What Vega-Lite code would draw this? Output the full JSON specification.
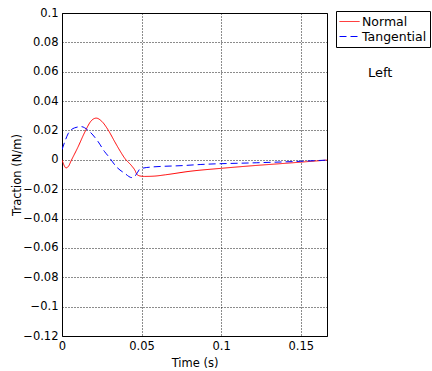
{
  "$schema": "https://vega.github.io/schema/vega-lite/v6.json",
  "width": 265,
  "height": 323,
  "autosize": {"type": "none"},
  "padding": {"left": 62, "top": 13, "right": 105, "bottom": 35},
  "background": "white",
  "title": {
    "text": "Left",
    "orient": "top",
    "anchor": "start",
    "frame": "group",
    "align": "left",
    "baseline": "alphabetic",
    "offset": 0,
    "dx": 306,
    "dy": 83,
    "font": "DejaVu Sans",
    "fontSize": 13,
    "fontWeight": "normal",
    "color": "black"
  },
  "config": {
    "view": {"stroke": "black", "strokeWidth": 1},
    "axis": {
      "domain": false,
      "ticks": false,
      "grid": true,
      "gridColor": "black",
      "gridDash": [1, 2],
      "gridWidth": 1,
      "gridOpacity": 0.9,
      "labelFont": "DejaVu Sans",
      "labelFontSize": 11.5,
      "labelColor": "black",
      "labelPadding": 4,
      "labelFlush": false,
      "labelOverlap": false,
      "titleFont": "DejaVu Sans",
      "titleFontSize": 11.5,
      "titleFontWeight": "normal",
      "titleColor": "black"
    },
    "legend": {
      "labelFont": "DejaVu Sans",
      "labelFontSize": 12.5,
      "labelColor": "black"
    }
  },
  "data": {
    "values": [
      {"t": 0.0, "v": 0.0, "s": "Normal"},
      {"t": 0.001, "v": -0.003, "s": "Normal"},
      {"t": 0.0025, "v": -0.0055, "s": "Normal"},
      {"t": 0.004, "v": -0.0045, "s": "Normal"},
      {"t": 0.0058, "v": -0.0005, "s": "Normal"},
      {"t": 0.010, "v": 0.0086, "s": "Normal"},
      {"t": 0.0143, "v": 0.0188, "s": "Normal"},
      {"t": 0.0184, "v": 0.0266, "s": "Normal"},
      {"t": 0.0215, "v": 0.0284, "s": "Normal"},
      {"t": 0.025, "v": 0.0262, "s": "Normal"},
      {"t": 0.0289, "v": 0.0205, "s": "Normal"},
      {"t": 0.0333, "v": 0.012, "s": "Normal"},
      {"t": 0.0365, "v": 0.006, "s": "Normal"},
      {"t": 0.0396, "v": 0.0008, "s": "Normal"},
      {"t": 0.0437, "v": -0.004, "s": "Normal"},
      {"t": 0.0459, "v": -0.0073, "s": "Normal"},
      {"t": 0.047, "v": -0.0098, "s": "Normal"},
      {"t": 0.049, "v": -0.011, "s": "Normal"},
      {"t": 0.052, "v": -0.0113, "s": "Normal"},
      {"t": 0.058, "v": -0.0111, "s": "Normal"},
      {"t": 0.065, "v": -0.0102, "s": "Normal"},
      {"t": 0.0804, "v": -0.0078, "s": "Normal"},
      {"t": 0.1, "v": -0.0058, "s": "Normal"},
      {"t": 0.12, "v": -0.004, "s": "Normal"},
      {"t": 0.1413, "v": -0.0023, "s": "Normal"},
      {"t": 0.1665, "v": -0.0002, "s": "Normal"},
      {"t": 0.0, "v": 0.007, "s": "Tangential"},
      {"t": 0.002, "v": 0.013, "s": "Tangential"},
      {"t": 0.0038, "v": 0.0177, "s": "Tangential"},
      {"t": 0.008, "v": 0.0218, "s": "Tangential"},
      {"t": 0.0121, "v": 0.0226, "s": "Tangential"},
      {"t": 0.0163, "v": 0.0202, "s": "Tangential"},
      {"t": 0.0226, "v": 0.0125, "s": "Tangential"},
      {"t": 0.0268, "v": 0.0055, "s": "Tangential"},
      {"t": 0.0291, "v": 0.0025, "s": "Tangential"},
      {"t": 0.0344, "v": -0.005, "s": "Tangential"},
      {"t": 0.0395, "v": -0.0093, "s": "Tangential"},
      {"t": 0.0438, "v": -0.0121, "s": "Tangential"},
      {"t": 0.0455, "v": -0.0115, "s": "Tangential"},
      {"t": 0.0475, "v": -0.0085, "s": "Tangential"},
      {"t": 0.049, "v": -0.0062, "s": "Tangential"},
      {"t": 0.0553, "v": -0.005, "s": "Tangential"},
      {"t": 0.0763, "v": -0.0039, "s": "Tangential"},
      {"t": 0.0868, "v": -0.0032, "s": "Tangential"},
      {"t": 0.1224, "v": -0.002, "s": "Tangential"},
      {"t": 0.15, "v": -0.001, "s": "Tangential"},
      {"t": 0.1665, "v": -0.0002, "s": "Tangential"}
    ]
  },
  "mark": {"type": "line", "strokeWidth": 1, "interpolate": "monotone", "clip": true},
  "encoding": {
    "x": {
      "field": "t",
      "type": "quantitative",
      "title": "Time (s)",
      "scale": {"domain": [0, 0.1665], "nice": false, "zero": false},
      "axis": {"values": [0, 0.05, 0.1, 0.15], "format": ".2~f", "titlePadding": 6}
    },
    "y": {
      "field": "v",
      "type": "quantitative",
      "title": "Traction (N/m)",
      "scale": {"domain": [-0.12, 0.1], "nice": false},
      "axis": {
        "values": [-0.12, -0.1, -0.08, -0.06, -0.04, -0.02, 0, 0.02, 0.04, 0.06, 0.08, 0.1],
        "format": ".2~f",
        "titlePadding": 0
      }
    },
    "color": {
      "field": "s",
      "type": "nominal",
      "scale": {"domain": ["Normal", "Tangential"], "range": ["#ff0000", "#0000ff"]},
      "legend": {
        "orient": "none",
        "legendX": 274,
        "legendY": -2,
        "title": null,
        "strokeColor": "black",
        "fillColor": "white",
        "padding": 3,
        "symbolType": "stroke",
        "symbolSize": 400,
        "symbolStrokeWidth": 1,
        "clipHeight": 15,
        "rowPadding": 0,
        "labelOffset": 2
      }
    },
    "strokeDash": {
      "field": "s",
      "type": "nominal",
      "scale": {"domain": ["Normal", "Tangential"], "range": [[1, 0], [7, 4]]},
      "legend": null
    }
  }
}
